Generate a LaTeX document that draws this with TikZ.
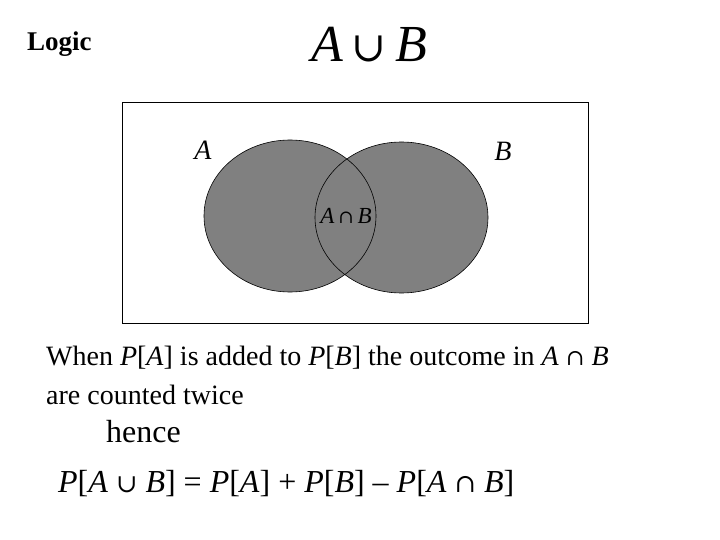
\documentclass[tikz,border=0pt]{standalone}
\usepackage{fontspec}
\setmainfont{Liberation Serif}
\newfontfamily\symf{DejaVu Serif}
\usetikzlibrary{positioning}

\newcommand{\vA}{\textit{A}}
\newcommand{\vB}{\textit{B}}
\newcommand{\vP}{\textit{P}}
\newcommand{\uni}{{\symf\scalebox{0.8}{∪}}}
\newcommand{\ins}{{\symf\scalebox{0.8}{∩}}}

\begin{document}
\begin{tikzpicture}[
  x=1pt, y=-1pt,
  ring/.style={draw=black, line width=0.6pt},
  txt/.style={inner sep=0pt, anchor=west, font=\fontsize{28}{32}\selectfont},
  big/.style={inner sep=0pt, font=\fontsize{28}{32}\selectfont}
]
\useasboundingbox (0,0) rectangle (720,540);

% title
\node[inner sep=0pt, anchor=west, font=\fontsize{27}{31}\selectfont\bfseries] (logic) at (27,44) {Logic};
\node[inner sep=0pt, font=\fontsize{52}{56}\selectfont] (union) at (369,45) {\vA\,\uni\,\vB};

% universe and sets
\draw[ring, line width=0.8pt] (122,102) rectangle (588,323);
\fill[black!50] (290,216) ellipse [x radius=86, y radius=76];
\fill[black!50] (401.5,217.5) ellipse [x radius=86.5, y radius=75.5];
\draw[ring] (290,216) ellipse [x radius=86, y radius=76];
\draw[ring] (401.5,217.5) ellipse [x radius=86.5, y radius=75.5];

\node[big] (la) at (203,150) {\vA};
\node[big] (lb) at (503,151) {\vB};
\node[inner sep=0pt, font=\fontsize{23}{27}\selectfont] (lab) at (346,216) {\vA\,\ins\,\vB};

% explanation
\node[txt] (l1) at (46,358) {When \vP[\vA] is added to \vP[\vB] the outcome in \vA\ \ins\ \vB};
\node[txt] (l2) at (46,395) {are counted twice};
\node[txt, font=\fontsize{32}{36}\selectfont] (hence) at (106,432) {hence};
\node[txt, font=\fontsize{32}{36}\selectfont] (rule) at (58,484)
  {\vP[\vA\ \uni\ \vB] = \vP[\vA] + \vP[\vB] -- \vP[\vA\ \ins\ \vB]};
\end{tikzpicture}
\end{document}
